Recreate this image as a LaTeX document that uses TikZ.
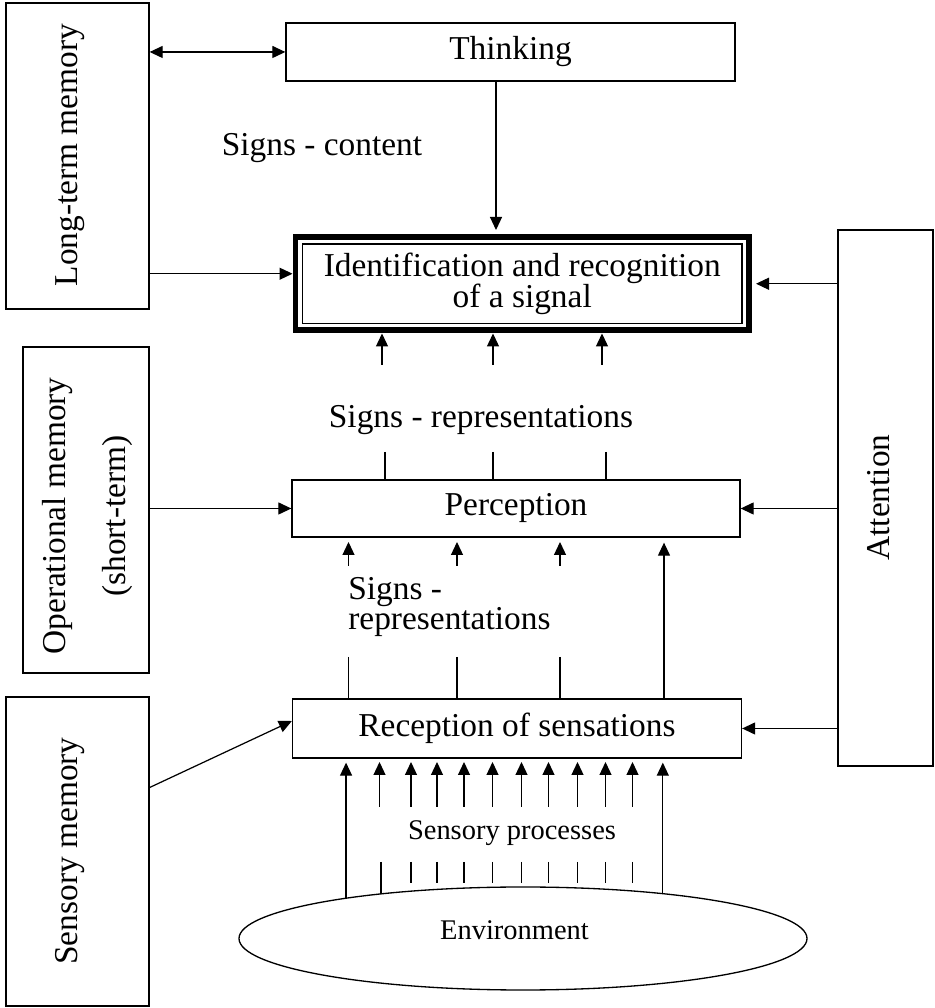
\documentclass[tikz,border=0pt]{standalone}
\usepackage{fontspec}
\setmainfont{Liberation Serif}
\usetikzlibrary{arrows.meta,shapes.geometric}

\newcommand\boxtext{\fontsize{19}{17.3}\selectfont\lineskiplimit=-50pt\relax}
\newcommand\smalltext{\fontsize{16.2}{19}\selectfont}

\begin{document}
\begin{tikzpicture}[
        font=\boxtext,
        >={Triangle[length=0.26cm, width=0.24cm]},
        box/.style={draw, line width=0.75pt, inner sep=0pt},
        arr/.style={line width=0.7pt, ->},
        stub/.style={line width=0.7pt},
    ]

        \useasboundingbox (0, 0) rectangle (18.68, 20.16);

        % memories on the left, attention on the right
        \node [box, minimum width=2.86cm, minimum height=6.12cm] (ltm) at (1.55, 17.04) {};
        \node [box, minimum width=2.52cm, minimum height=6.52cm] (opm) at (1.72, 9.96) {};
        \node [box, minimum width=2.86cm, minimum height=6.18cm] (sm) at (1.55, 3.13) {};
        \node [box, minimum width=1.9cm, minimum height=10.72cm] (att) at (17.71, 10.2) {};

        \node [rotate=90] (ltml) at (1.404, 17.06) {Long-term memory};
        \node [rotate=90, align=center, font=\fontsize{19}{34.1}\selectfont] (opml) at (1.744, 9.84)
            {Operational memory\\(short-term)};
        \node [rotate=90] (sml) at (1.404, 3.14) {Sensory memory};
        \node [rotate=90] (attl) at (17.57, 10.21) {Attention};

        % middle column
        \node [box, minimum width=8.98cm, minimum height=1.16cm] (thk) at (10.21, 19.12) {Thinking};
        \node [draw, line width=3.4pt, inner sep=0pt, align=center, minimum width=9.07cm,
            minimum height=1.87cm] (idn) at (10.445, 14.485) {Identification and recognition\\of a signal};
        \draw [line width=0.6pt] ([shift={(0.2, -0.2)}]idn.north west) rectangle ([shift={(-0.2, 0.2)}]idn.south east);
        \node [box, minimum width=8.96cm, minimum height=1.14cm] (per) at (10.32, 9.99) {Perception};
        \node [box, minimum width=8.98cm, minimum height=1.18cm] (rec) at (10.34, 5.59) {Reception of sensations};
        \node [draw, ellipse, line width=0.75pt, inner sep=0pt, minimum width=11.36cm,
            minimum height=2.06cm] (env) at (10.46, 1.39) {};

        \draw
            (6.44, 17.196)  node (sc)  {Signs - content}
            (9.62, 11.756)  node (sr)  {Signs - representations}
            (10.24, 3.492)  node [font=\smalltext] (sp) {Sensory processes}
            (10.29, 1.554)  node [font=\smalltext] (envl) {Environment}
        ;
        \node [anchor=west, align=left, inner sep=0pt] (sr2) at (6.96, 8.02) {Signs -\\representations};

        % connectors
        \draw [arr, <->] (ltm.east |- thk.west) -- (thk.west);
        \draw [arr] ([yshift=0.2cm]idn.west -| ltm.east) -- ([yshift=0.2cm]idn.west);
        \coordinate (thkout) at ([xshift=-0.29cm]thk.south);
        \draw [arr, shorten >=0.08cm] (thkout) -- (thkout |- idn.north);

        \draw [arr, shorten >=0.08cm] (att.west |- idn.east) -- (idn.east);
        \draw [arr] (att.west |- per.east) -- (per.east);
        \draw [arr] (att.west |- rec.east) -- (rec.east);

        \draw [arr] (opm.east |- per.west) -- (per.west);
        \draw [arr] ([yshift=1.28cm]sm.east) -- ([yshift=0.15cm]rec.west);

        \foreach \x in {7.64, 9.86, 12.04}
            \draw [arr] (\x, 12.86) -- (\x, 12.86 |- idn.south);
        \foreach \x in {7.7, 9.86, 12.12}
            \draw [stub] (\x, 11.12) -- (\x, 11.12 |- per.north);

        \foreach \x in {6.97, 9.14, 11.2} {
            \draw [arr] (\x, 8.84) -- (\x, 9.32);
            \draw [stub] (\x, 7.02) -- (\x, 7.02 |- rec.north);
        }
        \coordinate (recup) at ([xshift=2.94cm]rec.north);
        \draw [arr, shorten >=0.1cm] (recup) -- (recup |- per.south);

        \foreach \x in {7.59, 8.22, 8.74, 9.28, 9.85, 10.43, 10.97, 11.55, 12.11, 12.65}
            \draw [arr] (\x, 4.02) -- (\x, 4.92);
        \foreach \x in {8.22, 8.74, 9.28, 9.85, 10.43, 10.97, 11.55, 12.11, 12.65}
            \draw [stub] (\x, 2.92) -- (\x, 2.5);
        \draw [stub] (7.62, 2.92) -- (7.62, 2.28);

        \draw [arr, shorten >=0.08cm] (env.167) -- (env.167 |- rec.south);
        \draw [arr, shorten >=0.08cm] (env.18) -- (env.18 |- rec.south);

    \end{tikzpicture}
\end{document}
